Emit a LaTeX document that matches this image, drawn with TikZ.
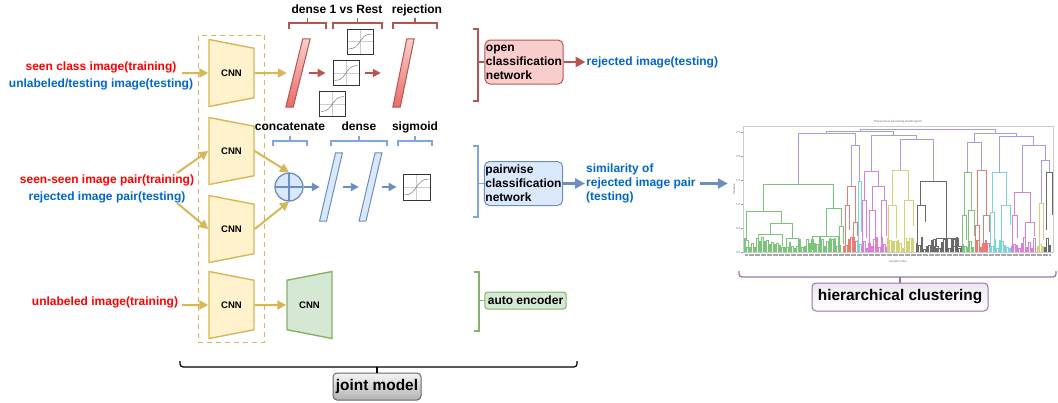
\documentclass[tikz,border=0pt]{standalone}
\usepackage{fontspec}
\setmainfont{Liberation Sans}
\usetikzlibrary{arrows.meta,positioning,shapes.geometric,calc,fit}

\definecolor{cnnfill}{HTML}{FFF2CC}
\definecolor{cnnline}{HTML}{D6B656}
\definecolor{redline}{HTML}{B85450}
\definecolor{redfill}{HTML}{F8CECC}
\definecolor{reddark}{HTML}{EA6B66}
\definecolor{blueline}{HTML}{6C8EBF}
\definecolor{bluefill}{HTML}{DAE8FC}
\definecolor{bluebr}{HTML}{7EA6E0}
\definecolor{greenline}{HTML}{82B366}
\definecolor{greenfill}{HTML}{D5E8D4}
\definecolor{purpline}{HTML}{9673A6}
\definecolor{purpfill}{HTML}{E1D5E7}
\definecolor{txtred}{HTML}{FF0000}
\definecolor{txtblue}{HTML}{0066CC}
\definecolor{dgreen}{HTML}{7CC47C}
\definecolor{dred}{HTML}{E87B78}
\definecolor{dmag}{HTML}{DA80DA}
\definecolor{dcyan}{HTML}{78D6DA}
\definecolor{dyel}{HTML}{D2D278}
\definecolor{dblack}{HTML}{6A6A6A}
\definecolor{dpurp}{HTML}{A0A0EA}

\newcommand{\dlink}[6][dpurp]{\draw[dline=#1] (#2,#5) |- (#3,#4) -- (#3,#6);}
\newcommand{\slab}[3]{\draw[#2] ($(#1.south west)+(-#3,0)$) -- ($(#1.south east)+(-#3,0)$)
  -- ($(#1.north east)+(#3,0)$) -- ($(#1.north west)+(#3,0)$) -- cycle;}

\tikzset{
  cnn/.style={trapezium, trapezium stretches body, trapezium angle=67,
    shape border rotate=270, minimum width=67pt, minimum height=45pt,
    inner sep=0pt, draw=cnnline, fill=cnnfill, line width=1.4pt,
    font=\fontsize{9.5}{11}\selectfont\bfseries},
  decoder/.style={cnn, shape border rotate=90, draw=greenline, fill=greenfill},
  layer/.style={rectangle, minimum width=#1, minimum height=68pt, inner sep=0pt},
  redslab/.style={draw=redline, line width=1pt, top color=redfill, bottom color=reddark},
  blueslab/.style={draw=blueline, line width=1pt, fill=bluefill},
  sigbox/.style={draw=black!80, fill=white, line width=0.8pt, minimum width=26pt,
    minimum height=25pt, inner sep=0pt, path picture={
      \draw[black!20] (path picture bounding box.north) -- (path picture bounding box.south)
        (path picture bounding box.west) -- (path picture bounding box.east);
      \draw[black!55, line width=0.5pt]
        ($(path picture bounding box.south west)+(1.5pt,5pt)$) .. controls +(13pt,0pt) and +(-13pt,0pt) ..
        ($(path picture bounding box.north east)+(-1.5pt,-5pt)$);}},
  catnode/.style={circle, draw=blueline, fill=bluefill, line width=1.3pt,
    minimum size=28pt, inner sep=0pt, path picture={
      \draw[blueline, line width=1.3pt] (path picture bounding box.north) -- (path picture bounding box.south)
        (path picture bounding box.west) -- (path picture bounding box.east);}},
  netbox/.style={rounded corners=5pt, line width=1pt, align=left, inner xsep=1pt,
    inner ysep=2pt, minimum width=78pt, minimum height=44pt,
    font=\fontsize{12}{14}\selectfont\bfseries},
  aebox/.style={rounded corners=3pt, line width=1pt, draw=greenline, fill=greenfill,
    inner xsep=3pt, inner ysep=2pt, minimum height=17pt,
    font=\fontsize{12}{14}\selectfont\bfseries},
  inlbl/.style={align=center, inner sep=1pt, font=\fontsize{12}{16.5}\selectfont\bfseries},
  outlbl/.style={text=txtblue, inner sep=1pt, font=\fontsize{12}{14}\selectfont\bfseries},
  toplbl/.style={anchor=base, inner sep=1pt, font=\fontsize{12}{14}\selectfont\bfseries},
  capbox/.style={rounded corners=4pt, line width=1pt, inner sep=0pt,
    font=\fontsize{15.4}{17}\selectfont\bfseries},
  tinylbl/.style={inner sep=0pt, text=black!55, font=\fontsize{3}{3.5}\selectfont},
  yarr/.style={draw=cnnline, line width=2pt, -{Triangle[length=9pt,width=9pt]}},
  rarr/.style={draw=redline, line width=2pt, -{Triangle[length=8pt,width=8pt]}},
  barr/.style={draw=blueline, line width=2pt, -{Triangle[length=8pt,width=8pt]}},
  bigred/.style={draw=redline, line width=2.5pt, -{Triangle[length=10pt,width=10pt]}},
  bigblue/.style={draw=blueline, line width=2.5pt, -{Triangle[length=10pt,width=10pt]}},
  brace/.style={draw=#1, line width=1.2pt},
  dline/.style={line width=0.6pt, draw=#1},
}

\begin{document}
\begin{tikzpicture}[x=1pt,y=-1pt]
\useasboundingbox (0,0) rectangle (1058,402);

\node[cnn] (cnna) at (231.5,73) {CNN};
\node[cnn] (cnnb) at ($(cnna)+(0,78)$) {CNN};
\node[cnn] (cnnc) at ($(cnnb)+(0,78)$) {CNN};
\node[cnn] (cnnd) at ($(cnnc)+(0,76)$) {CNN};
\node[decoder] (dec) at ($(cnnd)+(78,0)$) {CNN};
\node[fit=(cnna)(cnnd), draw=cnnline, line width=1.3pt, dash pattern=on 5pt off 4pt,
  inner xsep=10pt, inner ysep=8pt] (shared) {};

\node[inlbl] (txta) at (101,76) {\textcolor{txtred}{seen class image(training)}\\
  \textcolor{txtblue}{unlabeled/testing image(testing)}};
\node[inlbl] (txtb) at (107,189) {\textcolor{txtred}{seen-seen image pair(training)}\\
  \textcolor{txtblue}{rejected image pair(testing)}};
\node[inlbl, anchor=base] (txtc) at (105,305.7) {\textcolor{txtred}{unlabeled image(training)}};

\coordinate (ina) at (182,73);
\coordinate (inb) at (177,173);
\coordinate (inc) at (177,203);
\coordinate (ind) at (182,305);
\draw[yarr] (ina) -- (cnna);
\draw[yarr] (inb) -- (cnnb.west);
\draw[yarr] (inc) -- (cnnc.west);
\draw[yarr] (ind) -- (cnnd);

\node[layer=7pt] (dena) at (298,73) {};
\slab{dena}{redslab}{8.5pt}
\node[sigbox] (sigm) at (346,73) {};
\node[sigbox] (sigt) at ($(sigm)+(14,-31.5)$) {};
\node[sigbox] (sigb) at ($(sigm)+(-13.5,31)$) {};
\node[layer=7pt] (rej) at (403.5,73) {};
\slab{rej}{redslab}{7pt}
\draw[yarr, shorten >=7.5pt] (cnna.east) -- (dena);
\draw[rarr, shorten <=7.5pt, shorten >=7pt] (dena) -- (sigm);
\draw[rarr, shorten <=6pt, shorten >=19pt] (sigm) -- (rej);

\node[catnode] (cat) at (289,187) {};
\node[layer=6.5pt] (denb) at (331,187) {};
\slab{denb}{blueslab}{8pt}
\node[layer=6.5pt] (denc) at (370.5,187) {};
\slab{denc}{blueslab}{8pt}
\node[sigbox, minimum width=27pt, minimum height=26pt] (sigp) at (416.5,187) {};
\draw[yarr] (cnnb.east) -- (cat.north);
\draw[yarr] (cnnc.east) -- (cat.south);
\draw[barr, shorten >=7.75pt] (cat) -- (denb);
\draw[barr, shorten <=8.5pt, shorten >=8.25pt] (denb) -- (denc);
\draw[barr, shorten <=8.25pt, shorten >=6pt] (denc) -- (sigp);
\draw[yarr] (cnnd) -- (dec);

\foreach \a/\b in {289/326, 333/382, 393/437}{
  \draw[brace=redline] (\a,29) |- (\b,23) -- (\b,29);
  \draw[brace=redline] ({(\a+\b)/2},23) -- ++(0,-5);
}
\node[toplbl] (rlbla) at (337,13) {dense 1 vs Rest};
\node[toplbl] (rlblb) at (417,13) {rejection};
\foreach \a/\b/\txt [count=\i] in {273/307/concatenate, 331/387/dense, 398/432/sigmoid}{
  \draw[brace=bluebr] (\a,146) |- (\b,141) -- (\b,146);
  \draw[brace=bluebr] ({(\a+\b)/2},141) -- ++(0,-5);
  \node[toplbl] (blbl\i) at ({(\a+\b)/2},130) {\txt};
}

\node[netbox, draw=redline, fill=redfill] (openbox) at (524,62) {open\\classification\\network};
\node[netbox, draw=blueline, fill=bluefill] (pairbox) at (523.5,183.5) {pairwise\\classification\\network};
\node[aebox] (aebox) at (525.5,300.5) {auto encoder};
\draw[brace=redline] (473,29) -| (478,101) -- (473,101);
\draw[brace=bluebr] (473,146) -| (478,217) -- (473,217);
\draw[brace=greenline] (474,272) -| (479,331) -- (474,331);
\coordinate (openbr) at (478,62);
\coordinate (pairbr) at (478,183.5);
\coordinate (aebr) at (479,300.5);
\draw[brace=redline] (openbr) -- (openbox);
\draw[brace=bluebr] (pairbr) -- (pairbox);
\draw[brace=greenline] (aebr) -- (aebox);

\node[outlbl, right=22pt of openbox] (rejout) {rejected image(testing)};
\node[outlbl, align=left, right=22pt of pairbox] (simout) {similarity of\\rejected image pair\\(testing)};
\draw[bigred] (openbox) -- (rejout);
\draw[bigblue] (pairbox) -- (simout);

\draw[line width=1.2pt, rounded corners=3pt] (180,361) -- (180,367) -- (577,367) -- (577,361);
\node[capbox, draw=black!60, top color=black!4, bottom color=black!30,
  minimum width=88pt, minimum height=27pt] (jmbox) at (377,386.5) {joint model};
\coordinate (jmmid) at (377,367);
\draw[line width=1.2pt] (jmmid) -- (jmbox);

\node[draw=black!20, line width=0.5pt, minimum width=310pt, minimum height=126pt,
  inner sep=0pt] (dendro) at (898,189) {};
\draw[bigblue, shorten <=3pt, shorten >=15pt] (simout.east) -- (simout.east -| dendro.west);
\node[tinylbl] (dtitle) at (898,122) {Hierarchical Clustering Dendrogram};
\foreach \y/\v [count=\i] in {132/2.5, 156/2.0, 180/1.5, 204/1.0, 228/0.5, 252/0.0}{
  \draw[black!40, line width=0.3pt] (741,\y) -- (743,\y);
  \node[tinylbl, anchor=east] (ytk\i) at (740.5,\y) {\v};
}
\node[tinylbl, rotate=90] (ylbl) at (734,189) {distance};
\node[tinylbl] (xlbl) at (898,262) {sample index};
\draw[black!35, line width=2pt, dash pattern=on 0.6pt off 0.6pt] (745,255) -- (1051,255);

\dlink{860}{995}{129}{131}{133}
\dlink{826.5}{893.75}{131}{133}{135}
\dlink{798}{855}{133}{184}{145}
\dlink{851}{859.5}{145}{186}{181}
\dlink{871}{916.5}{135}{171}{139}
\dlink{900}{933}{139}{170}{181}
\dlink{974.5}{1016}{133}{142}{136}
\dlink{967.5}{981.5}{142}{172}{170}
\dlink{999}{1033.5}{136}{172}{145}
\dlink{1022}{1045}{145}{192}{160}
\dlink{1041}{1049}{160}{203}{172}
\dlink[dgreen]{763}{833.5}{184}{211}{208}
\dlink[dgreen]{746}{781}{211}{240}{223}
\dlink[dgreen]{770}{792}{223}{234}{238}
\dlink[dgreen]{758}{782}{234}{250}{246}
\dlink[dgreen]{786}{798}{238}{250}{247}
\dlink[dgreen]{744}{748}{240}{252}{250}
\dlink[dgreen]{826}{841}{208}{236}{226}
\dlink[dgreen]{812}{838}{236}{250}{248}
\dlink[dgreen]{839}{843}{226}{252}{244}
\dlink[dred]{847}{855}{186}{205}{222}
\dlink[dred]{845}{849}{205}{252}{230}
\dlink[dred]{853}{857}{222}{252}{236}
\dlink[dcyan]{858}{861}{181}{252}{232}
\dlink[dmag]{864}{878}{171}{200}{186}
\dlink[dmag]{862}{866}{200}{252}{238}
\dlink[dmag]{872}{884}{186}{210}{200}
\dlink[dmag]{869}{875}{210}{252}{240}
\dlink[dmag]{881}{886}{200}{252}{236}
\dlink[dyel]{892}{908}{170}{205}{200}
\dlink[dyel]{888}{896}{205}{252}{238}
\dlink[dyel]{904}{913}{200}{244}{226}
\dlink[dblack]{920}{946}{181}{205}{238}
\dlink[dblack]{917}{925}{205}{252}{222}
\dlink[dblack]{936}{958}{238}{246}{246}
\dlink[dblack]{934}{938}{246}{252}{250}
\dlink[dblack]{952}{962}{246}{252}{250}
\dlink[dgreen]{964}{971}{172}{215}{210}
\dlink[dgreen]{962}{966}{215}{252}{240}
\dlink[dgreen]{968}{974}{210}{252}{236}
\dlink[dred]{977}{986}{170}{225}{215}
\dlink[dred]{975}{979}{225}{252}{240}
\dlink[dred]{983}{989}{215}{252}{232}
\dlink[dcyan]{992}{1006}{172}{212}{205}
\dlink[dcyan]{990}{994}{212}{252}{240}
\dlink[dcyan]{1001}{1010}{205}{244}{225}
\dlink[dmag]{1014}{1030}{192}{215}{222}
\dlink[dmag]{1012}{1017}{215}{252}{238}
\dlink[dmag]{1025}{1034}{222}{246}{236}
\dlink[dyel]{1039}{1043}{203}{252}{240}
\dlink[dblack]{1046}{1052}{172}{230}{215}
\pgfmathsetseed{7}
\foreach \xa/\xb/\col in {744/841/dgreen, 843/856/dred, 857/861/dcyan, 861/886/dmag,
  887/914/dyel, 916/961/dblack, 962/974/dgreen, 975/988/dred, 989/1010/dcyan,
  1011/1035/dmag, 1037/1043/dyel, 1044/1051/dblack}{
  \pgfmathtruncatemacro\n{(\xb-\xa)/2.5}
  \foreach \k in {0,...,\n}{
    \pgfmathsetmacro\x{\xa+2.5*\k}
    \pgfmathsetmacro\h{249-rnd*12}
    \draw[dline=\col] (\x,252) |- ({\x+1.3},\h) -- ({\x+1.3},252);
  }
}

\draw[purpline, line width=1.2pt, rounded corners=3pt] (739,271) -- (739,277) -- (1056,277) -- (1056,271);
\node[capbox, draw=purpline, top color=purpfill!60, bottom color=white,
  minimum width=176pt, minimum height=28pt] (hcbox) at (900,297) {hierarchical clustering};
\coordinate (hcmid) at (900,277);
\draw[purpline, line width=1.2pt] (hcmid) -- (hcbox);
\end{tikzpicture}
\end{document}
